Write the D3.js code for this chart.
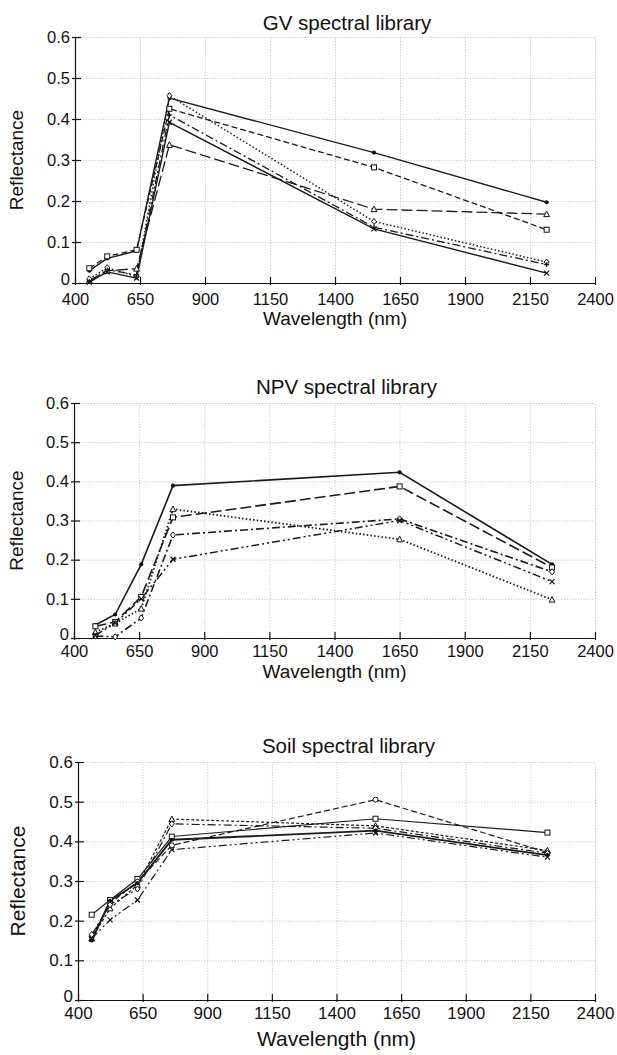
<!DOCTYPE html>
<html>
<head>
<meta charset="utf-8">
<script src="https://cdn.jsdelivr.net/npm/d3@7"></script>
<style>
  body { margin: 0; background: #fff; }
  svg { display: block; font-family: "Liberation Sans", Arial, sans-serif; }
  .grid line { stroke: #b8b8b8; stroke-width: 0.8; stroke-dasharray: 1.2 1.6; }
  .grid path { display: none; }
  .axis path, .axis line { stroke: #111; stroke-width: 1.2; }
  .axis text { fill: #111; }
</style>
</head>
<body>
<svg id="chart"></svg>
<script>
// ---- data ----
const xTicks = [400, 650, 900, 1150, 1400, 1650, 1900, 2150, 2400];
const yTicks = [0, 0.1, 0.2, 0.3, 0.4, 0.5, 0.6];

// GV spectral library
const gvBands = [455, 524, 637, 763, 1550, 2214];
const gvDot      = [0.030, 0.060, 0.078, 0.451, 0.318, 0.197];
const gvSquare   = [0.036, 0.065, 0.081, 0.425, 0.282, 0.130];
const gvTriangle = [0.006, 0.030, 0.035, 0.337, 0.180, 0.168];
const gvDiamond  = [0.010, 0.037, 0.016, 0.457, 0.150, 0.051];
const gvPlus     = [0.004, 0.032, 0.020, 0.410, 0.136, 0.045];
const gvCross    = [0.002, 0.027, 0.012, 0.392, 0.132, 0.024];

// NPV spectral library
const npvBands = [482, 558, 658, 780, 1650, 2235];
const npvDot      = [0.033, 0.060, 0.188, 0.389, 0.423, 0.188];
const npvSquare   = [0.030, 0.041, 0.105, 0.308, 0.387, 0.180];
const npvTriangle = [0.015, 0.037, 0.075, 0.329, 0.252, 0.098];
const npvDiamond  = [0.005, 0.003, 0.051, 0.263, 0.304, 0.169];
const npvCross    = [0.007, 0.038, 0.100, 0.201, 0.300, 0.144];

// Soil spectral library
const soilBands = [453, 524, 630, 763, 1551, 2216];
const soilSquare   = [0.215, 0.252, 0.305, 0.412, 0.457, 0.422];
const soilCircle   = [0.160, 0.244, 0.298, 0.390, 0.505, 0.372];
const soilTriangle = [0.155, 0.231, 0.290, 0.456, 0.439, 0.377];
const soilDiamond  = [0.165, 0.240, 0.280, 0.444, 0.433, 0.370];
const soilDot      = [0.150, 0.250, 0.295, 0.404, 0.427, 0.365];
const soilCross    = [0.155, 0.202, 0.252, 0.379, 0.421, 0.360];

const W = 617, H = 1055;
const svg = d3.select('#chart').attr('width', W).attr('height', H);

const dashes = {
  solid: null,
  dashed: '6 3',
  longdash: '11 4',
  dotted: '1.5 2.2',
  shortdash: '3 2',
  dashdot: '8 3 2 3',
  dashdotdot: '8 3 2 3 2 3'
};

function marker(g, type, x, y) {
  const s = 2.5;
  const c = '#111';
  if (type === 'dot') {
    g.append('circle').attr('cx', x).attr('cy', y).attr('r', 2.1).attr('fill', c);
  } else if (type === 'square') {
    g.append('rect').attr('x', x - s).attr('y', y - s).attr('width', 2 * s).attr('height', 2 * s)
      .attr('fill', '#fff').attr('stroke', c).attr('stroke-width', 1);
  } else if (type === 'circle') {
    g.append('circle').attr('cx', x).attr('cy', y).attr('r', s)
      .attr('fill', '#fff').attr('stroke', c).attr('stroke-width', 1);
  } else if (type === 'triangle') {
    g.append('path').attr('d', `M${x},${y - s - 0.6}L${x + s + 0.4},${y + s}L${x - s - 0.4},${y + s}Z`)
      .attr('fill', '#fff').attr('stroke', c).attr('stroke-width', 1);
  } else if (type === 'diamond') {
    g.append('path').attr('d', `M${x},${y - s - 0.6}L${x + s},${y}L${x},${y + s + 0.6}L${x - s},${y}Z`)
      .attr('fill', '#fff').attr('stroke', c).attr('stroke-width', 1);
  } else if (type === 'cross') {
    g.append('path').attr('d', `M${x - s},${y - s}L${x + s},${y + s}M${x - s},${y + s}L${x + s},${y - s}`)
      .attr('stroke', c).attr('stroke-width', 1.2);
  } else if (type === 'plus') {
    g.append('path').attr('d', `M${x - s},${y}L${x + s},${y}M${x},${y - s}L${x},${y + s}`)
      .attr('stroke', c).attr('stroke-width', 1.2);
  }
}

function drawPanel(p) {
  const x = d3.scaleLinear().domain([400, 2400]).range([p.left, p.right]);
  const y = d3.scaleLinear().domain([0, 0.6]).range([p.bottom, p.top]);
  const g = svg.append('g');

  // Grid
  g.append('g')
    .attr('class', 'grid')
    .attr('transform', `translate(0, ${p.bottom})`)
    .call(d3.axisBottom(x).tickValues(xTicks.slice(1)).tickSize(-(p.bottom - p.top)).tickFormat(''));
  g.append('g')
    .attr('class', 'grid')
    .attr('transform', `translate(${p.left}, 0)`)
    .call(d3.axisLeft(y).tickValues(yTicks.slice(1)).tickSize(-(p.right - p.left)).tickFormat(''));

  // X axis, ticks pointing in with a short stub outside
  g.append('g')
    .attr('class', 'axis')
    .attr('transform', `translate(0, ${p.bottom})`)
    .call(d3.axisBottom(x).tickValues(xTicks).tickSizeInner(-6).tickSizeOuter(0)
      .tickPadding(p.xPad).tickFormat(d3.format('d')))
    .call(a => a.selectAll('.tick').append('line').attr('y2', 2).attr('stroke', '#111'))
    .call(a => a.selectAll('text').attr('font-size', p.tickSize + 'px'));

  // Y axis
  g.append('g')
    .attr('class', 'axis')
    .attr('transform', `translate(${p.left}, 0)`)
    .call(d3.axisLeft(y).tickValues(yTicks).tickSizeInner(-6).tickSizeOuter(0).tickPadding(5)
      .tickFormat(d => d === 0 ? '0' : d3.format('.1f')(d)))
    .call(a => a.selectAll('.tick').append('line').attr('x2', -3).attr('stroke', '#111'))
    .call(a => a.selectAll('text').attr('font-size', p.tickSize + 'px'))
    // keep the corner "0" clear of the "400" below it
    .call(a => a.selectAll('.tick').filter(d => d === 0).select('text').attr('dy', '0.1em'));

  // Title
  svg.append('text')
    .attr('x', (p.left + p.right) / 2 + 12)
    .attr('y', p.top - p.titleGap)
    .attr('text-anchor', 'middle')
    .attr('font-size', '20.5px')
    .attr('fill', '#111')
    .text(p.title);

  // Axis labels
  svg.append('text')
    .attr('x', (p.left + p.right) / 2)
    .attr('y', p.bottom + p.xLabelOffset)
    .attr('text-anchor', 'middle')
    .attr('font-size', p.labelSize + 'px')
    .attr('fill', '#111')
    .text('Wavelength (nm)');

  svg.append('text')
    .attr('transform', `translate(${p.yLabelX}, ${(p.top + p.bottom) / 2}) rotate(-90)`)
    .attr('text-anchor', 'middle')
    .attr('font-size', p.labelSize + 'px')
    .attr('fill', '#111')
    .text('Reflectance');

  // Lines
  const line = d3.line()
    .x((d, i) => x(p.bands[i]))
    .y(d => y(d));

  p.series.forEach(s => {
    g.append('path')
      .datum(s.values)
      .attr('fill', 'none')
      .attr('stroke', '#1a1a1a')
      .attr('stroke-width', s.width || 1.3)
      .attr('stroke-dasharray', dashes[s.dash])
      .attr('d', line);
  });
  p.series.forEach(s => {
    s.values.forEach((v, i) => marker(g, s.marker, x(p.bands[i]), y(v)));
  });
}

drawPanel({
  title: 'GV spectral library',
  left: 75, right: 595, top: 37, bottom: 283,
  tickSize: 16.5, labelSize: 19, xPad: 10, xLabelOffset: 42, yLabelX: 23, titleGap: 7,
  bands: gvBands,
  series: [
    { values: gvDot, dash: 'solid', marker: 'dot', width: 1.4 },
    { values: gvSquare, dash: 'dashed', marker: 'square' },
    { values: gvTriangle, dash: 'longdash', marker: 'triangle' },
    { values: gvDiamond, dash: 'dotted', marker: 'diamond', width: 1.5 },
    { values: gvPlus, dash: 'dashdot', marker: 'plus' },
    { values: gvCross, dash: 'solid', marker: 'cross', width: 1.4 }
  ]
});

drawPanel({
  title: 'NPV spectral library',
  left: 74, right: 595, top: 403, bottom: 638,
  tickSize: 16.5, labelSize: 19, xPad: 7, xLabelOffset: 40, yLabelX: 23, titleGap: 9,
  bands: npvBands,
  series: [
    { values: npvDot, dash: 'solid', marker: 'dot', width: 1.6 },
    { values: npvSquare, dash: 'longdash', marker: 'square', width: 1.6 },
    { values: npvTriangle, dash: 'dotted', marker: 'triangle', width: 1.8 },
    { values: npvDiamond, dash: 'dashdot', marker: 'diamond', width: 1.6 },
    { values: npvCross, dash: 'dashdotdot', marker: 'cross', width: 1.5 }
  ]
});

drawPanel({
  title: 'Soil spectral library',
  left: 78, right: 595, top: 762, bottom: 1000,
  tickSize: 17, labelSize: 21, xPad: 7, xLabelOffset: 46, yLabelX: 25, titleGap: 9,
  bands: soilBands,
  series: [
    { values: soilSquare, dash: 'solid', marker: 'square', width: 1.1 },
    { values: soilCircle, dash: 'dashed', marker: 'circle', width: 1.2 },
    { values: soilTriangle, dash: 'shortdash', marker: 'triangle', width: 1.2 },
    { values: soilDiamond, dash: 'dashdot', marker: 'diamond', width: 1.2 },
    { values: soilDot, dash: 'solid', marker: 'dot', width: 1.8 },
    { values: soilCross, dash: 'dashdotdot', marker: 'cross', width: 1.2 }
  ]
});
</script>
</body>
</html>
